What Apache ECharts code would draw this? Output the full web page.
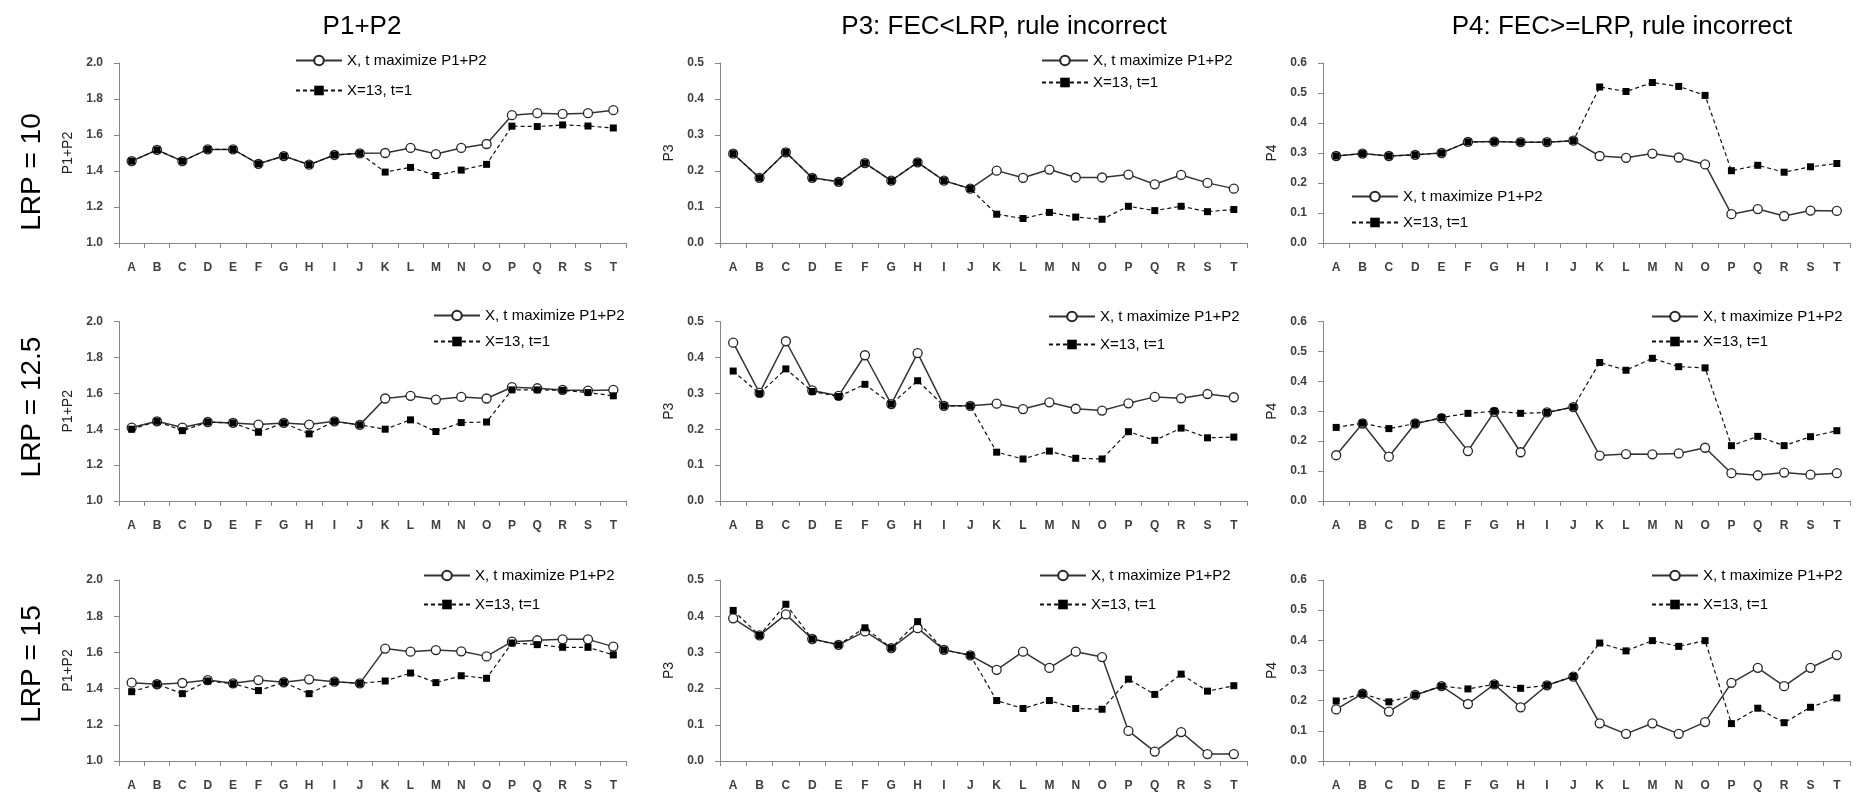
<!DOCTYPE html>
<html>
<head>
<meta charset="utf-8">
<script src="https://cdn.jsdelivr.net/npm/echarts@6/dist/echarts.min.js"></script>
<style>
html,body{margin:0;padding:0;background:#fff;}
#chart{width:1863px;height:800px;}
</style>
</head>
<body>
<div id="chart"></div>
<script>
var categories = ['A','B','C','D','E','F','G','H','I','J','K','L','M','N','O','P','Q','R','S','T'];
var seriesNames = ['X, t maximize P1+P2', 'X=13, t=1'];
var columnTitles = ['P1+P2', 'P3: FEC<LRP, rule incorrect', 'P4: FEC>=LRP, rule incorrect'];
var rowLabels = ['LRP = 10', 'LRP = 12.5', 'LRP = 15'];
var yNames = ['P1+P2', 'P3', 'P4'];
var yMins = [1.0, 0.0, 0.0];
var yMaxs = [2.0, 0.5, 0.6];
var yIntervals = [0.2, 0.1, 0.1];

// LRP = 10
var p12_lrp10_max = [1.455,1.517,1.455,1.520,1.520,1.440,1.483,1.435,1.489,1.498,1.500,1.528,1.494,1.528,1.550,1.710,1.721,1.717,1.721,1.738];
var p12_lrp10_fix = [1.455,1.517,1.455,1.520,1.520,1.440,1.483,1.435,1.489,1.498,1.394,1.420,1.375,1.405,1.437,1.649,1.647,1.656,1.650,1.639];
var p3_lrp10_max = [0.248,0.181,0.252,0.181,0.170,0.222,0.173,0.224,0.173,0.151,0.201,0.181,0.204,0.182,0.182,0.190,0.163,0.189,0.167,0.151];
var p3_lrp10_fix = [0.248,0.181,0.252,0.181,0.170,0.222,0.173,0.224,0.173,0.151,0.080,0.068,0.085,0.072,0.066,0.102,0.090,0.102,0.087,0.093];
var p4_lrp10_max = [0.290,0.298,0.290,0.294,0.300,0.337,0.338,0.336,0.336,0.341,0.290,0.284,0.298,0.285,0.262,0.096,0.113,0.090,0.108,0.107];
var p4_lrp10_fix = [0.290,0.298,0.290,0.294,0.300,0.337,0.338,0.336,0.336,0.341,0.520,0.505,0.535,0.522,0.492,0.241,0.259,0.236,0.254,0.265];
// LRP = 12.5
var p12_lrp125_max = [1.409,1.444,1.409,1.440,1.435,1.426,1.435,1.426,1.444,1.424,1.571,1.586,1.565,1.580,1.571,1.634,1.628,1.619,1.615,1.619];
var p12_lrp125_fix = [1.400,1.444,1.392,1.440,1.435,1.383,1.435,1.374,1.444,1.424,1.400,1.452,1.387,1.437,1.440,1.619,1.619,1.617,1.604,1.586];
var p3_lrp125_max = [0.441,0.301,0.445,0.308,0.293,0.406,0.270,0.412,0.265,0.265,0.271,0.256,0.275,0.257,0.252,0.272,0.290,0.286,0.298,0.289];
var p3_lrp125_fix = [0.362,0.299,0.368,0.305,0.291,0.325,0.270,0.335,0.265,0.265,0.136,0.117,0.139,0.119,0.117,0.193,0.169,0.203,0.176,0.178];
var p4_lrp125_max = [0.153,0.259,0.148,0.259,0.277,0.167,0.298,0.163,0.296,0.314,0.152,0.157,0.156,0.159,0.178,0.093,0.086,0.095,0.088,0.093];
var p4_lrp125_fix = [0.246,0.260,0.242,0.259,0.279,0.293,0.300,0.293,0.296,0.314,0.463,0.437,0.477,0.449,0.445,0.185,0.216,0.185,0.215,0.235];
// LRP = 15
var p12_lrp15_max = [1.433,1.424,1.431,1.447,1.429,1.447,1.435,1.451,1.438,1.429,1.621,1.604,1.613,1.606,1.578,1.659,1.667,1.672,1.672,1.632];
var p12_lrp15_fix = [1.383,1.424,1.372,1.442,1.427,1.389,1.435,1.372,1.438,1.429,1.442,1.486,1.433,1.471,1.457,1.652,1.643,1.628,1.628,1.586];
var p3_lrp15_max = [0.394,0.347,0.405,0.337,0.321,0.358,0.312,0.367,0.307,0.292,0.252,0.302,0.257,0.302,0.287,0.083,0.026,0.080,0.019,0.019];
var p3_lrp15_fix = [0.416,0.347,0.433,0.337,0.321,0.368,0.312,0.385,0.307,0.292,0.167,0.145,0.167,0.145,0.143,0.226,0.184,0.240,0.193,0.208];
var p4_lrp15_max = [0.171,0.223,0.164,0.219,0.248,0.189,0.254,0.178,0.251,0.280,0.125,0.090,0.125,0.090,0.129,0.259,0.309,0.248,0.309,0.351];
var p4_lrp15_fix = [0.199,0.223,0.196,0.219,0.248,0.239,0.254,0.241,0.251,0.280,0.391,0.365,0.399,0.380,0.399,0.124,0.175,0.127,0.178,0.209];

var panelData = [
  [[p12_lrp10_max, p12_lrp10_fix], [p3_lrp10_max, p3_lrp10_fix], [p4_lrp10_max, p4_lrp10_fix]],
  [[p12_lrp125_max, p12_lrp125_fix], [p3_lrp125_max, p3_lrp125_fix], [p4_lrp125_max, p4_lrp125_fix]],
  [[p12_lrp15_max, p12_lrp15_fix], [p3_lrp15_max, p3_lrp15_fix], [p4_lrp15_max, p4_lrp15_fix]]
];

// layout
var colX = [[119, 626], [720, 1247], [1323, 1850]];
var rowY = [[63, 243], [321.5, 501], [580, 761]];
// legend positions [left, firstItemCenterY, secondItemCenterY]
var legendPos = [
  [[295, 61, 92], [1041, 61, 84], [1351, 197, 224]],
  [[433, 316, 343], [1048, 317, 346], [1651, 317, 343]],
  [[423, 576, 606], [1039, 576, 606], [1651, 576, 606]]
];
var titleX = [362, 1004, 1622];
var rowLabelY = [172, 407, 664];

var FONT = "'Liberation Sans', Arial, sans-serif";
var grids = [], xAxes = [], yAxes = [], series = [], legends = [], graphics = [];
var idx = 0;
for (var r = 0; r < 3; r++) {
  for (var c = 0; c < 3; c++) {
    grids.push({left: colX[c][0], width: colX[c][1] - colX[c][0], top: rowY[r][0], height: rowY[r][1] - rowY[r][0], containLabel: false});
    xAxes.push({
      type: 'category', gridIndex: idx, data: categories, boundaryGap: true,
      axisLine: {lineStyle: {color: '#868686', width: 1}},
      axisTick: {show: true, interval: 0, length: 5, lineStyle: {color: '#868686'}},
      axisLabel: {interval: 0, margin: 19, fontSize: 12, fontWeight: 'bold', color: '#404040', fontFamily: FONT},
      splitLine: {show: false}
    });
    yAxes.push({
      type: 'value', gridIndex: idx, min: yMins[c], max: yMaxs[c], interval: yIntervals[c],
      axisLine: {show: true, lineStyle: {color: '#868686', width: 1}},
      axisTick: {show: true, length: 5, lineStyle: {color: '#868686'}},
      axisLabel: {margin: 16, fontSize: 12, fontWeight: 'bold', color: '#404040', fontFamily: FONT,
        formatter: function (v) { return v.toFixed(1); }},
      splitLine: {show: false},
      name: yNames[c], nameLocation: 'middle', nameRotate: 90, nameGap: 44,
      nameTextStyle: {fontSize: 14, color: '#222', fontFamily: FONT}
    });
    series.push({
      name: seriesNames[0], type: 'line', xAxisIndex: idx, yAxisIndex: idx,
      data: panelData[r][c][0], symbol: 'circle', symbolSize: 9,
      itemStyle: {color: '#ffffff', borderColor: '#262626', borderWidth: 1.3},
      lineStyle: {color: '#333333', width: 1.5, type: 'solid'},
      emphasis: {disabled: true}, z: 2
    });
    series.push({
      name: seriesNames[1], type: 'line', xAxisIndex: idx, yAxisIndex: idx,
      data: panelData[r][c][1], symbol: 'rect', symbolSize: 7,
      itemStyle: {color: '#000000'},
      lineStyle: {color: '#111111', width: 1.2, type: [4, 3]},
      emphasis: {disabled: true}, z: 3
    });
    var lp = legendPos[r][c];
    legends.push({
      data: seriesNames, orient: 'vertical', left: lp[0], top: lp[1] - 8,
      padding: 0,
      itemWidth: 46, itemHeight: 12, itemGap: (lp[2] - lp[1]) - 16,
      selectedMode: false,
      textStyle: {fontSize: 15, color: '#000', fontFamily: FONT}
    });
    idx++;
  }
}
for (var c2 = 0; c2 < 3; c2++) {
  graphics.push({type: 'text', x: titleX[c2], y: 27,
    style: {text: columnTitles[c2], fontSize: 26, fill: '#000', fontFamily: FONT, textAlign: 'center', textVerticalAlign: 'middle'}});
}
for (var r2 = 0; r2 < 3; r2++) {
  graphics.push({type: 'text', x: 32, y: rowLabelY[r2], rotation: Math.PI / 2,
    style: {text: rowLabels[r2], fontSize: 28, fill: '#000', fontFamily: FONT, textAlign: 'center', textVerticalAlign: 'middle'}});
}

var chart = echarts.init(document.getElementById('chart'), null, {renderer: 'canvas'});
chart.setOption({
  animation: false,
  backgroundColor: '#ffffff',
  textStyle: {fontFamily: FONT},
  grid: grids, xAxis: xAxes, yAxis: yAxes, series: series, legend: legends, graphic: graphics
});
</script>
</body>
</html>
